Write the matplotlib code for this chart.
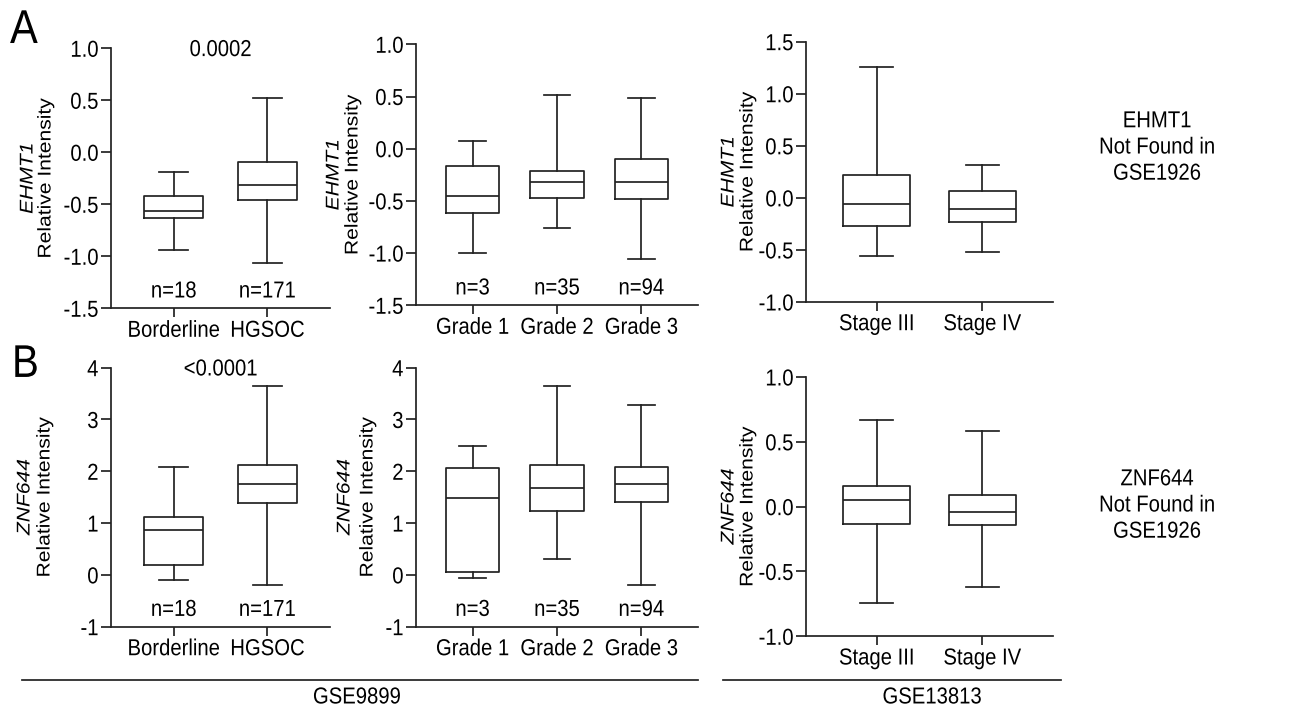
import matplotlib
matplotlib.use('Agg')
import matplotlib.pyplot as plt
from matplotlib.lines import Line2D
from matplotlib.text import Text
from matplotlib.patheffects import AbstractPathEffect
from matplotlib.transforms import Affine2D

plt.rcParams['font.family'] = ['Liberation Sans', 'DejaVu Sans']
plt.rcParams['axes.unicode_minus'] = False

# ---------------- data ----------------
# Row A: EHMT1
a1_groups = ['Borderline', 'HGSOC']
a1_n = ['n=18', 'n=171']
a1_whislo = [-0.94, -1.06]
a1_q1 = [-0.63, -0.46]
a1_med = [-0.56, -0.31]
a1_q3 = [-0.42, -0.09]
a1_whishi = [-0.19, 0.52]
a1_p = '0.0002'

a2_groups = ['Grade 1', 'Grade 2', 'Grade 3']
a2_n = ['n=3', 'n=35', 'n=94']
a2_whislo = [-1.00, -0.76, -1.06]
a2_q1 = [-0.62, -0.47, -0.48]
a2_med = [-0.45, -0.32, -0.32]
a2_q3 = [-0.17, -0.21, -0.10]
a2_whishi = [0.07, 0.51, 0.49]

a3_groups = ['Stage III', 'Stage IV']
a3_whislo = [-0.56, -0.52]
a3_q1 = [-0.27, -0.23]
a3_med = [-0.06, -0.11]
a3_q3 = [0.22, 0.07]
a3_whishi = [1.26, 0.32]

# Row B: ZNF644
b1_groups = ['Borderline', 'HGSOC']
b1_n = ['n=18', 'n=171']
b1_whislo = [-0.10, -0.20]
b1_q1 = [0.20, 1.38]
b1_med = [0.87, 1.75]
b1_q3 = [1.12, 2.12]
b1_whishi = [2.08, 3.65]
b1_p = '<0.0001'

b2_groups = ['Grade 1', 'Grade 2', 'Grade 3']
b2_n = ['n=3', 'n=35', 'n=94']
b2_whislo = [-0.06, 0.30, -0.19]
b2_q1 = [0.06, 1.24, 1.40]
b2_med = [1.49, 1.67, 1.76]
b2_q3 = [2.06, 2.13, 2.08]
b2_whishi = [2.48, 3.64, 3.28]

b3_groups = ['Stage III', 'Stage IV']
b3_whislo = [-0.74, -0.62]
b3_q1 = [-0.13, -0.14]
b3_med = [0.05, -0.04]
b3_q3 = [0.16, 0.09]
b3_whishi = [0.67, 0.58]

a_ticks_12 = [-1.5, -1.0, -0.5, 0.0, 0.5, 1.0]
a_ticks_3 = [-1.0, -0.5, 0.0, 0.5, 1.0, 1.5]
b_ticks_12 = [-1, 0, 1, 2, 3, 4]
b_ticks_3 = [-1.0, -0.5, 0.0, 0.5, 1.0]

gene_a = 'EHMT1'
gene_b = 'ZNF644'
ylabel = 'Relative Intensity'
note_a = 'EHMT1\nNot Found in\nGSE1926'
note_b = 'ZNF644\nNot Found in\nGSE1926'
dataset_1 = 'GSE9899'
dataset_2 = 'GSE13813'

# ---------------- figure ----------------
W, H = 1296, 707
fig = plt.figure(figsize=(W / 100, H / 100), dpi=100)
FS = 14.6      # horizontal text
FS_Y = 13.3    # rotated axis titles
LC = '#222222'


class VStretch(AbstractPathEffect):
    """Stretch each drawn text line vertically (display space) about its centre,
    mimicking the source figure, whose type is taller than it is wide."""

    def __init__(self, s):
        super().__init__()
        self.s = s

    def draw_path(self, renderer, gc, tpath, affine, rgbFace=None):
        bb = tpath.get_extents(affine)
        cy = 0.5 * (bb.y0 + bb.y1)
        st = Affine2D().translate(0, -cy).scale(1, self.s).translate(0, cy)
        renderer.draw_path(gc, tpath, affine + st, rgbFace)


def add_ax(x0, x1, ytop, ybot):
    return fig.add_axes([x0 / W, 1 - ybot / H, (x1 - x0) / W, (ybot - ytop) / H])


def panel(ax, groups, lo, q1, med, q3, hi, yticks, fmt, gene, off_rel, off_gene,
          ns=None, pval=None):
    stats = []
    for i in range(len(groups)):
        stats.append(dict(whislo=lo[i], q1=q1[i], med=med[i], q3=q3[i],
                          whishi=hi[i], fliers=[], label=groups[i]))
    pos = list(range(len(groups)))
    lw = 1.25
    ax.bxp(stats, positions=pos, widths=0.63, capwidths=0.31, showfliers=False,
           boxprops=dict(color=LC, linewidth=lw),
           whiskerprops=dict(color=LC, linewidth=lw),
           capprops=dict(color=LC, linewidth=lw),
           medianprops=dict(color=LC, linewidth=lw))
    ax.set_xlim(-0.67, len(groups) - 1 + 0.67)
    ax.set_ylim(yticks[0], yticks[-1])
    ax.set_yticks(yticks)
    ax.set_yticklabels([fmt.format(t) for t in yticks])
    ax.set_xticks(pos)
    ax.set_xticklabels(groups)
    for s in ['top', 'right']:
        ax.spines[s].set_visible(False)
    for s in ['left', 'bottom']:
        ax.spines[s].set_linewidth(1.25)
        ax.spines[s].set_color(LC)
    ax.tick_params(axis='y', length=7.5, width=1.25, color=LC, labelsize=FS, pad=1.5)
    ax.tick_params(axis='x', length=6.5, width=1.25, color=LC, labelsize=FS, pad=2.5)
    ax.patch.set_visible(False)
    ax.annotate(ylabel, xy=(0, 0.5), xycoords='axes fraction',
                xytext=(-off_rel * 0.72, 0), textcoords='offset points',
                rotation=90, ha='center', va='center', fontsize=FS_Y)
    ax.annotate(gene, xy=(0, 0.5), xycoords='axes fraction',
                xytext=(-off_gene * 0.72, 0), textcoords='offset points',
                rotation=90, ha='center', va='center', fontsize=FS_Y, style='italic')
    if ns is not None:
        for i, t in enumerate(ns):
            ax.text(pos[i], 0.03, t, transform=ax.get_xaxis_transform(),
                    ha='center', va='bottom', fontsize=FS)
    if pval is not None:
        ax.text(0.5, 0.995, pval, transform=ax.get_xaxis_transform(),
                ha='center', va='center', fontsize=FS)


ax1 = add_ax(111, 330, 48.3, 308.3)
panel(ax1, a1_groups, a1_whislo, a1_q1, a1_med, a1_q3, a1_whishi, a_ticks_12,
      '{:.1f}', gene_a, 65, 83, ns=a1_n, pval=a1_p)
ax2 = add_ax(416, 698, 44.3, 305.3)
panel(ax2, a2_groups, a2_whislo, a2_q1, a2_med, a2_q3, a2_whishi, a_ticks_12,
      '{:.1f}', gene_a, 63, 82, ns=a2_n)
ax3 = add_ax(806, 1053, 41.7, 302)
panel(ax3, a3_groups, a3_whislo, a3_q1, a3_med, a3_q3, a3_whishi, a_ticks_3,
      '{:.1f}', gene_a, 58, 77)

bx1 = add_ax(111, 330, 367.7, 626.7)
panel(bx1, b1_groups, b1_whislo, b1_q1, b1_med, b1_q3, b1_whishi, b_ticks_12,
      '{:d}', gene_b, 66, 86, ns=b1_n, pval=b1_p)
bx2 = add_ax(416, 698, 367.7, 626.7)
panel(bx2, b2_groups, b2_whislo, b2_q1, b2_med, b2_q3, b2_whishi, b_ticks_12,
      '{:d}', gene_b, 48, 71, ns=b2_n)
bx3 = add_ax(806, 1053, 377, 636.3)
panel(bx3, b3_groups, b3_whislo, b3_q1, b3_med, b3_q3, b3_whishi, b_ticks_3,
      '{:.1f}', gene_b, 58, 77)

# notes on the right
fig.text(1157 / W, 1 - 147 / H, note_a, fontsize=FS, ha='center', va='center',
         linespacing=1.48)
fig.text(1157 / W, 1 - 505 / H, note_b, fontsize=FS, ha='center', va='center',
         linespacing=1.48)

# dataset group lines
yl = 1 - 680 / H
fig.add_artist(Line2D([22 / W, 698 / W], [yl, yl], color=LC, linewidth=1.25))
fig.add_artist(Line2D([723 / W, 1061 / W], [yl, yl], color=LC, linewidth=1.25))
fig.text(357 / W, 1 - 697 / H, dataset_1, fontsize=FS, ha='center', va='center')
fig.text(932 / W, 1 - 697 / H, dataset_2, fontsize=FS, ha='center', va='center')

# panel letters
fig.text(10 / W, 1 - 41 / H, 'A', fontsize=30, ha='left', va='baseline')
fig.text(12 / W, 1 - 375 / H, 'B', fontsize=29, ha='left', va='baseline')

# all text drawn slightly taller, like the source figure
fig.canvas.draw()
for t in fig.findobj(Text):
    if t.get_text():
        t.set_path_effects([VStretch(1.14)])

fig.savefig('out.png', dpi=100)
